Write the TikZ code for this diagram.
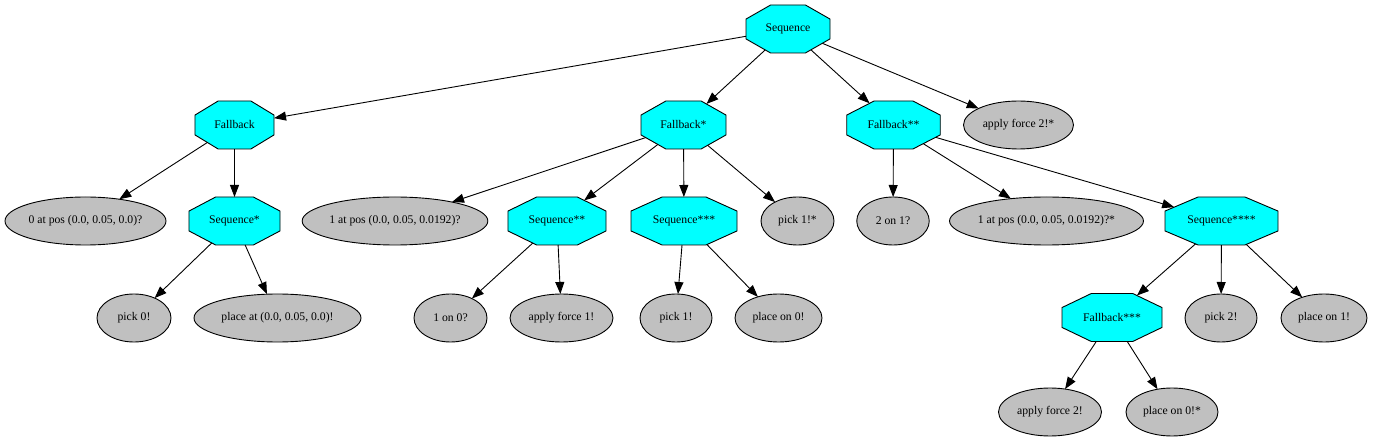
\documentclass[tikz,border=0pt]{standalone}
\usepackage{fontspec}
\setmainfont{Liberation Serif}
\usetikzlibrary{shapes.geometric,arrows.meta}
\definecolor{octfill}{HTML}{00FFFF}
\definecolor{ellfill}{HTML}{C0C0C0}
\tikzset{
  oct/.style={shape=regular polygon, regular polygon sides=8, draw=black, fill=octfill,
    line width=0.9pt, minimum size=51.96pt, inner sep=0pt, outer sep=0pt,
    transform shape, xscale=#1},
  lbl/.style={inner sep=0pt, font=\fontsize{11.7}{14}\selectfont},
  ell/.style={shape=ellipse, draw=black, fill=ellfill, line width=0.9pt,
    minimum width=#1, minimum height=48pt, inner sep=0pt, outer sep=0pt,
    font=\fontsize{11.7}{14}\selectfont},
  edge/.style={line width=0.9pt, -{Triangle[length=12pt,width=9pt]}},
}
\begin{document}
\begin{tikzpicture}[x=1pt,y=-1pt]
\useasboundingbox (0,0) rectangle (1373,443);
% octagons
\node[oct=1.75]   (root)  at (788,29) {};
\node[oct=1.646]  (fb)    at (234.5,125) {};
\node[oct=1.771]  (fbs)   at (683.5,125) {};
\node[oct=1.948]  (fbss)  at (893.5,125) {};
\node[oct=1.896]  (seqs)  at (234.5,221) {};
\node[oct=2.042]  (seqss) at (557,221) {};
\node[oct=2.208]  (seqsss) at (684,221) {};
\node[oct=2.354]  (seqf)  at (1221.5,221) {};
\node[oct=2.083]  (fbsss) at (1112,317.5) {};
% octagon labels
\node[lbl] (root-l)   at (root)   {Sequence};
\node[lbl] (fb-l)     at (fb)     {Fallback};
\node[lbl] (fbs-l)    at (fbs)    {Fallback*};
\node[lbl] (fbss-l)   at (fbss)   {Fallback**};
\node[lbl] (seqs-l)   at (seqs)   {Sequence*};
\node[lbl] (seqss-l)  at (seqss)  {Sequence**};
\node[lbl] (seqsss-l) at (seqsss) {Sequence***};
\node[lbl] (seqf-l)   at (seqf)   {Sequence****};
\node[lbl] (fbsss-l)  at (fbsss)  {Fallback***};
% ellipses
\node[ell=110pt] (af2s)  at (1018.5,125) {apply force 2!*};
\node[ell=161pt] (p0q)   at (85.5,221) {0 at pos (0.0, 0.05, 0.0)?};
\node[ell=180pt] (p1q)   at (395,221) {1 at pos (0.0, 0.05, 0.0192)?};
\node[ell=73pt]  (pk1s)  at (797.5,221) {pick 1!*};
\node[ell=72.5pt] (on21) at (893,221) {2 on 1?};
\node[ell=189pt] (p1qs)  at (1046.5,221) {1 at pos (0.0, 0.05, 0.0192)?*};
\node[ell=74pt]  (pk0)   at (134,318) {pick 0!};
\node[ell=167pt] (plat)  at (277.5,318) {place at (0.0, 0.05, 0.0)!};
\node[ell=73pt]  (on10)  at (450.5,318) {1 on 0?};
\node[ell=103pt] (af1)   at (561.5,318) {apply force 1!};
\node[ell=72pt]  (pk1)   at (676,318) {pick 1!};
\node[ell=87pt]  (plon0) at (778.5,318) {place on 0!};
\node[ell=72pt]  (pk2)   at (1221,318) {pick 2!};
\node[ell=86pt]  (plon1) at (1324,318) {place on 1!};
\node[ell=103pt] (af2)   at (1050,412) {apply force 2!};
\node[ell=92pt]  (plon0s) at (1172,412) {place on 0!*};
% edges
\draw[edge] (root) -- (fb);
\draw[edge] (root) -- (fbs);
\draw[edge] (root) -- (fbss);
\draw[edge] (root) -- (af2s);
\draw[edge] (fb) -- (p0q);
\draw[edge] (fb) -- (seqs);
\draw[edge] (seqs) -- (pk0);
\draw[edge] (seqs) -- (plat);
\draw[edge] (fbs) -- (p1q);
\draw[edge] (fbs) -- (seqss);
\draw[edge] (fbs) -- (seqsss);
\draw[edge] (fbs) -- (pk1s);
\draw[edge] (seqss) -- (on10);
\draw[edge] (seqss) -- (af1);
\draw[edge] (seqsss) -- (pk1);
\draw[edge] (seqsss) -- (plon0);
\draw[edge] (fbss) -- (on21);
\draw[edge] (fbss) -- (p1qs);
\draw[edge] (fbss) -- (seqf);
\draw[edge] (seqf) -- (fbsss);
\draw[edge] (seqf) -- (pk2);
\draw[edge] (seqf) -- (plon1);
\draw[edge] (fbsss) -- (af2);
\draw[edge] (fbsss) -- (plon0s);
\end{tikzpicture}
\end{document}
